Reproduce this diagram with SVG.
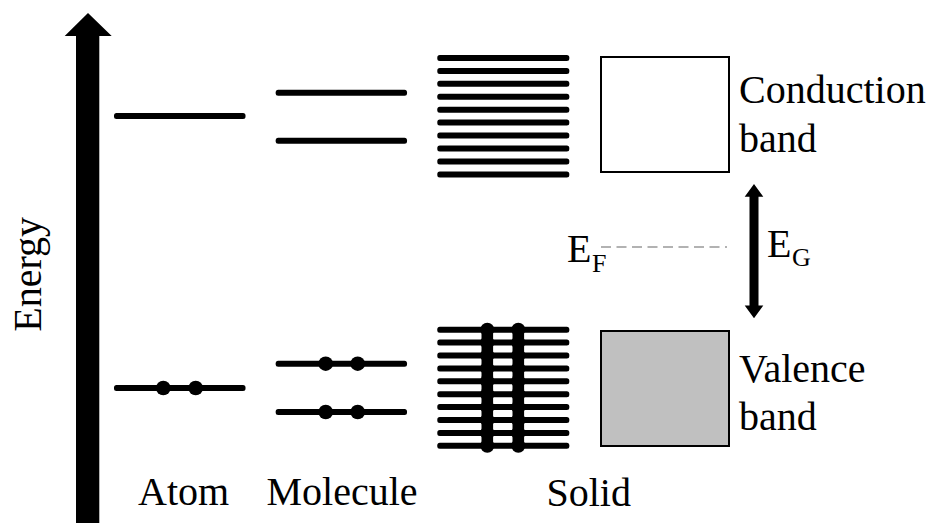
<svg xmlns="http://www.w3.org/2000/svg" width="928" height="523" viewBox="0 0 928 523">
<style>
  text { font-family: 'Liberation Serif', 'Times New Roman', Tinos, 'DejaVu Serif', 'Noto Serif', serif; fill: #000; }
  .lbl { font-size: 40px; }
  .sub { font-size: 26px; }
  .band { stroke: #000; stroke-width: 2; }
</style>
<defs>
  <rect id="lv" x="0" y="-3" width="132" height="6" rx="2.5"/>
</defs>
<rect width="928" height="523" fill="#fff"/>

<g id="energy-axis">
  <polygon points="88,13 111.7,36 99.3,36 99.3,523 76,523 76,36 64.7,36" fill="#000"/>
  <text class="lbl" transform="translate(41,331.7) rotate(-90)">Energy</text>
</g>

<g id="atom">
  <rect x="114" y="113" width="131.5" height="6" rx="2.5"/>
  <rect x="114" y="385" width="131.5" height="6" rx="2.5"/>
  <circle cx="163.3" cy="388" r="7.3"/>
  <circle cx="195.7" cy="388" r="7.3"/>
  <text class="lbl" x="138" y="505">Atom</text>
</g>

<g id="molecule">
  <rect x="275.7" y="89.7" width="131.3" height="6" rx="2.5"/>
  <rect x="275.7" y="137.7" width="131.3" height="6" rx="2.5"/>
  <rect x="275.7" y="360.7" width="131.3" height="6" rx="2.5"/>
  <rect x="275.7" y="409" width="131.3" height="6" rx="2.5"/>
  <circle cx="325.7" cy="363.7" r="7.3"/>
  <circle cx="357.7" cy="363.7" r="7.3"/>
  <circle cx="325.7" cy="412" r="7.3"/>
  <circle cx="357.7" cy="412" r="7.3"/>
  <text class="lbl" x="266.5" y="505">Molecule</text>
</g>

<g id="solid">
  <g fill="#000">
    <use href="#lv" x="437.3" y="58"/>
    <use href="#lv" x="437.3" y="70.9"/>
    <use href="#lv" x="437.3" y="83.8"/>
    <use href="#lv" x="437.3" y="96.8"/>
    <use href="#lv" x="437.3" y="109.7"/>
    <use href="#lv" x="437.3" y="122.6"/>
    <use href="#lv" x="437.3" y="135.6"/>
    <use href="#lv" x="437.3" y="148.5"/>
    <use href="#lv" x="437.3" y="161.5"/>
    <use href="#lv" x="437.3" y="174.5"/>

    <use href="#lv" x="437.3" y="329.7"/>
    <use href="#lv" x="437.3" y="342.6"/>
    <use href="#lv" x="437.3" y="355.5"/>
    <use href="#lv" x="437.3" y="368.4"/>
    <use href="#lv" x="437.3" y="381.3"/>
    <use href="#lv" x="437.3" y="394.2"/>
    <use href="#lv" x="437.3" y="407.1"/>
    <use href="#lv" x="437.3" y="420"/>
    <use href="#lv" x="437.3" y="432.9"/>
    <use href="#lv" x="437.3" y="445.8"/>
  </g>
  <g fill="#000">
    <rect x="481.5" y="329.7" width="11.6" height="116.1"/>
    <rect x="512.5" y="329.7" width="11.6" height="116.1"/>
    <circle cx="487.3" cy="329.7" r="7"/><circle cx="518.3" cy="329.7" r="7"/>
    <circle cx="487.3" cy="342.6" r="7"/><circle cx="518.3" cy="342.6" r="7"/>
    <circle cx="487.3" cy="355.5" r="7"/><circle cx="518.3" cy="355.5" r="7"/>
    <circle cx="487.3" cy="368.4" r="7"/><circle cx="518.3" cy="368.4" r="7"/>
    <circle cx="487.3" cy="381.3" r="7"/><circle cx="518.3" cy="381.3" r="7"/>
    <circle cx="487.3" cy="394.2" r="7"/><circle cx="518.3" cy="394.2" r="7"/>
    <circle cx="487.3" cy="407.1" r="7"/><circle cx="518.3" cy="407.1" r="7"/>
    <circle cx="487.3" cy="420" r="7"/><circle cx="518.3" cy="420" r="7"/>
    <circle cx="487.3" cy="432.9" r="7"/><circle cx="518.3" cy="432.9" r="7"/>
    <circle cx="487.3" cy="445.8" r="7"/><circle cx="518.3" cy="445.8" r="7"/>
  </g>
  <text class="lbl" x="546.5" y="506">Solid</text>
</g>

<g id="conduction-band">
  <rect class="band" x="601" y="57" width="128" height="115" fill="#fff"/>
  <text class="lbl" x="739" y="103">Conduction</text>
  <text class="lbl" x="739" y="151.5">band</text>
</g>

<g id="valence-band">
  <rect class="band" x="601" y="331" width="128" height="115" fill="#c0c0c0"/>
  <text class="lbl" x="739" y="381.5">Valence</text>
  <text class="lbl" x="739" y="430">band</text>
</g>

<g id="fermi-level">
  <line x1="601" y1="247" x2="727" y2="247" stroke="#999" stroke-width="1.5" stroke-dasharray="10,5.5"/>
  <text class="lbl" x="567" y="261.5">E</text>
  <text class="sub" x="592" y="272">F</text>
</g>

<g id="connectors">
  <g id="gap-arrow">
    <polygon points="754,184 763.3,196.7 758.5,196.7 758.5,305.6 763.3,305.6 754,318.3 744.7,305.6 749.5,305.6 749.5,196.7 744.7,196.7" fill="#000"/>
  </g>
</g>

<g id="gap-label">
  <text class="lbl" x="767" y="256.5">E</text>
  <text class="sub" x="792" y="266">G</text>
</g>
</svg>
